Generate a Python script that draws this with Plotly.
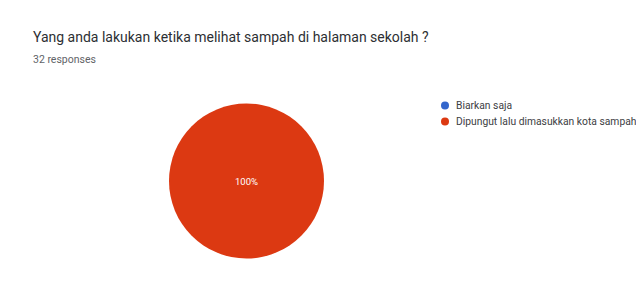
import plotly.graph_objects as go

title = "Yang anda lakukan ketika melihat sampah di halaman sekolah ?"
subtitle = "32 responses"
categories = ["Biarkan saja", "Dipungut lalu dimasukkan kota sampah"]
values = [0, 32]
colors = ["#3366CC", "#DC3912"]

W, H = 644, 284

def px(x):
    return x / W

def py(y):
    return 1 - y / H

fig = go.Figure()
fig.add_trace(go.Pie(
    labels=categories, values=values,
    marker=dict(colors=colors, line=dict(color="white", width=0)),
    texttemplate=["" if v == 0 else "%{percent:.0%}" for v in values],
    textposition="inside", insidetextfont=dict(color="white", size=9.5, family="Roboto"),
    sort=False, direction="clockwise", showlegend=False, hoverinfo="label+percent",
    domain=dict(x=[px(160), px(317)], y=[py(250.5), py(95.5)]),
))

annotations = [
    dict(text=title, x=px(23), y=py(29), xref="paper", yref="paper",
         xanchor="left", yanchor="middle", showarrow=False,
         font=dict(size=14, color="#2d2f33", family="Roboto")),
    dict(text=subtitle, x=px(23), y=py(52), xref="paper", yref="paper",
         xanchor="left", yanchor="middle", showarrow=False,
         font=dict(size=10.5, color="#5f6368", family="Roboto")),
]
shapes = []
for i, (c, col) in enumerate(zip(categories, colors)):
    ly = 97.5 + 16 * i
    r = 4
    shapes.append(dict(type="circle", xref="paper", yref="paper",
                       x0=px(437 - r), x1=px(437 + r), y0=py(ly + r), y1=py(ly - r),
                       fillcolor=col, line=dict(width=0)))
    annotations.append(dict(text=c, x=px(446), y=py(ly), xref="paper", yref="paper",
                            xanchor="left", yanchor="middle", showarrow=False,
                            font=dict(size=10.3, color="#3c4043", family="Roboto")))

fig.update_layout(
    width=W, height=H, margin=dict(l=0, r=0, t=0, b=0),
    paper_bgcolor="white", plot_bgcolor="white",
    showlegend=False,
    annotations=annotations,
    shapes=shapes,
)
fig.write_html("out.html")
